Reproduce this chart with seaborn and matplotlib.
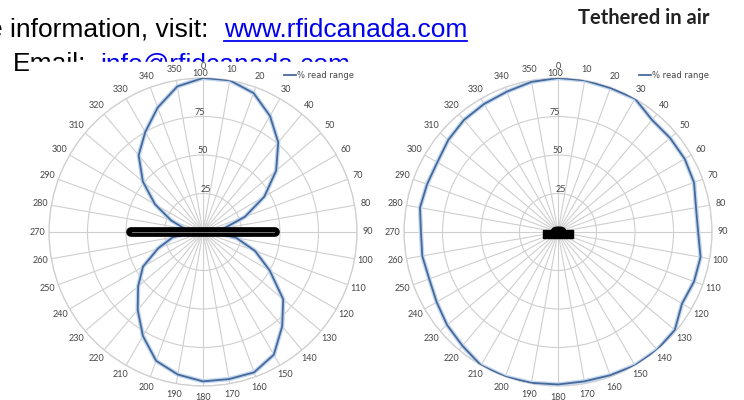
import numpy as np
import matplotlib.pyplot as plt
import seaborn as sns
from matplotlib.patches import Rectangle, Ellipse
from matplotlib.lines import Line2D

# angles in degrees, 0 at top, clockwise
angles = list(range(0, 360, 10))
angle_labels = [str(a) for a in angles]
r_ticks = [25, 50, 75, 100]

# % read range, tag flat (left) - dipole shape
flat_range = [100, 100, 96, 87, 76, 62, 46, 29, 14, 6,
              22, 36, 50, 68, 80, 92, 97, 97, 97,
              94, 89, 78, 66, 55, 45, 31, 20, 6,
              12, 22, 36, 51, 65, 75, 86, 96]

# % read range, tethered in air (right)
air_range = [100, 100, 99.5, 100, 95, 95, 95, 94, 91, 91,
             94, 94, 93, 99, 100, 100, 99, 98.5, 99,
             99.5, 100, 100, 96.5, 94, 91, 89, 89.5, 89,
             91, 90.5, 90.5, 93, 95, 96, 97, 99]

line_col = "#46699a"
halo_col = "#c3d7ee"
grid_col = "#cfcfcf"
lab_col = "#444444"

fig = plt.figure(figsize=(7.44, 4.0), dpi=100)
W, H = 744, 400


def polar_panel(left_px, values):
    R = 154
    cx_top = 232
    ax = fig.add_axes([(left_px - R) / W, (H - cx_top - R) / H, 2 * R / W, 2 * R / H],
                      projection="polar")
    ax.set_zorder(10)
    ax.set_theta_zero_location("N")
    ax.set_theta_direction(-1)
    th = np.deg2rad(angles + [360])
    rr = values + [values[0]]
    sns.lineplot(x=th, y=rr, ax=ax, sort=False, color=halo_col, lw=3.2, zorder=3)
    sns.lineplot(x=th, y=rr, ax=ax, sort=False, color=line_col, lw=1.3,
                 label="% read range", zorder=4)
    ax.set_ylim(0, 100)
    ax.set_thetagrids(angles, labels=angle_labels, fontsize=6.5, color=lab_col,
                      family="Lato")
    ax.set_rgrids(r_ticks, labels=[str(t) for t in r_ticks], angle=-4,
                  fontsize=6.5, color=lab_col, family="Lato")
    ax.tick_params(axis="x", pad=-2.5)
    ax.grid(True, color=grid_col, lw=0.8)
    ax.spines["polar"].set_color(grid_col)
    ax.spines["polar"].set_linewidth(0.9)
    ax.legend(loc="upper right", bbox_to_anchor=(1.0, 1.035), frameon=False,
              fontsize=6, handlelength=1.4, handletextpad=0.1,
              labelcolor=lab_col, borderaxespad=0)
    return ax


ax1 = polar_panel(203, flat_range)
ax2 = polar_panel(558, air_range)

# tag drawn flat across the left plot
ax1.plot(np.deg2rad([90, 0, 270]), [47, 0, 47], color="black", lw=7,
         solid_capstyle="round", zorder=6)
ax1.plot(np.deg2rad([90, 0, 270]), [46, 0, 46], color="#888888", lw=0.6, zorder=7)

# small tethered tag at the centre of the right plot
ax2.add_patch(Rectangle((0.451, 0.48), 0.097, 0.026, transform=ax2.transAxes,
                        color="black", zorder=6))
ax2.add_patch(Ellipse((0.502, 0.506), 0.044, 0.02, transform=ax2.transAxes,
                      color="black", zorder=6))

# header text (clipped at page edge like the source)
fs = 19
y1 = (H - 37) / H
fig.text(-12 / W, y1, "e information, visit:", fontsize=fs, family="Liberation Sans",
         va="baseline", zorder=1)
url = fig.text(224 / W, y1, "www.rfidcanada.com", fontsize=fs, family="Liberation Sans",
               color="#0000ee", va="baseline", zorder=1)
y2 = (H - 71) / H
fig.text(13 / W, y2, "Email:", fontsize=fs, family="Liberation Sans",
         va="baseline", zorder=1)
fig.text(100 / W, y2, "info@rfidcanada.com", fontsize=fs, family="Liberation Sans",
         color="#0000ee", va="baseline", zorder=1)
fig.add_artist(Rectangle((29 / W, 0.70), 1, (H - 62) / H - 0.70,
                         transform=fig.transFigure, color="white", zorder=2))

fig.text(710 / W, (H - 24) / H, "Tethered in air", fontsize=14.5, fontweight="bold",
         family="Lato", color="#222222", ha="right", va="baseline")

fig.canvas.draw()
bb = url.get_window_extent()
fig.add_artist(Line2D([bb.x0 / W, bb.x1 / W], [(H - 40.5) / H] * 2,
                      color="#0000ee", lw=1.3, transform=fig.transFigure))

fig.savefig("out.png", dpi=100)
